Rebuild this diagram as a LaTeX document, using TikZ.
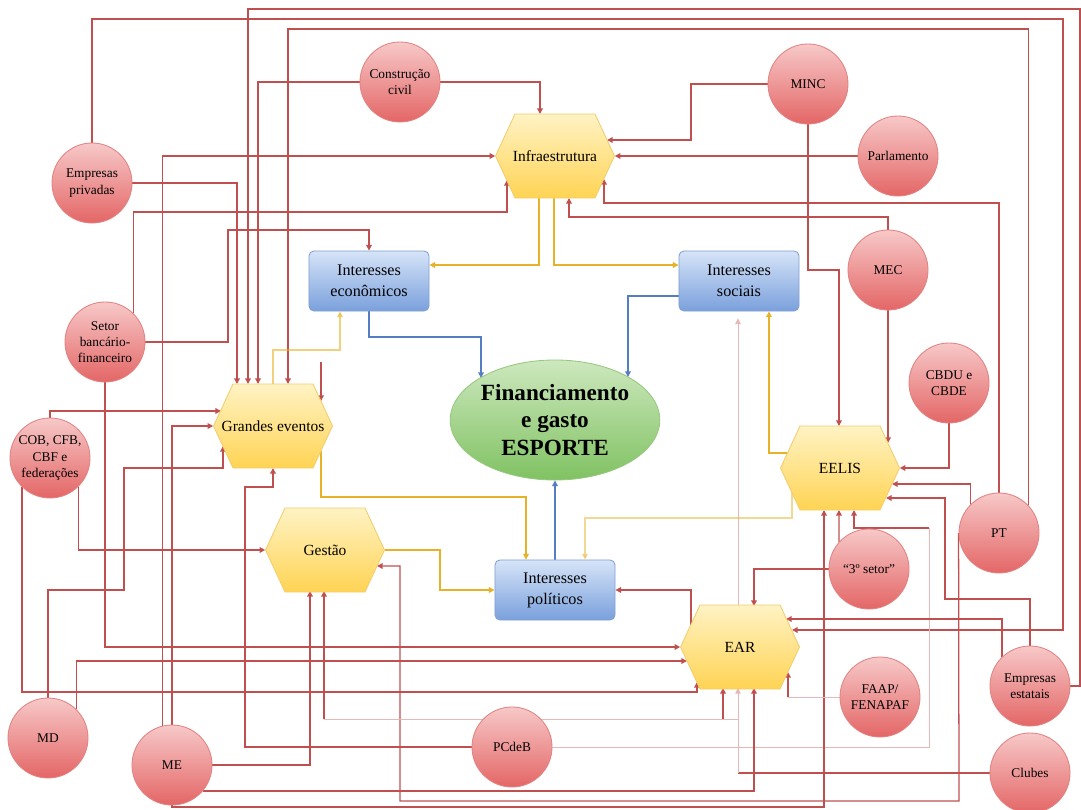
\documentclass[tikz,border=0pt]{standalone}
\usepackage{fontspec}
\setmainfont{Liberation Serif}
\usetikzlibrary{shapes.geometric,arrows.meta,calc}
\pgfdeclarelayer{bg}
\pgfdeclarelayer{hexl}
\pgfsetlayers{bg,hexl,main}
\definecolor{ctop}{RGB}{247,200,200}
\definecolor{cbot}{RGB}{228,102,102}
\definecolor{cbord}{RGB}{226,130,130}
\definecolor{htop}{RGB}{255,243,196}
\definecolor{hbot}{RGB}{255,212,84}
\definecolor{hbord}{RGB}{242,205,110}
\definecolor{btop}{RGB}{214,228,248}
\definecolor{bbot}{RGB}{122,160,220}
\definecolor{bbord}{RGB}{130,160,210}
\definecolor{gtop}{RGB}{205,232,190}
\definecolor{gbot}{RGB}{128,194,98}
\definecolor{gbord}{RGB}{150,200,125}
\definecolor{lred}{RGB}{192,80,80}
\definecolor{lyel}{RGB}{232,178,40}
\definecolor{lblue}{RGB}{85,125,195}
\newcommand{\drawhex}[1]{\shadedraw[top color=htop,bottom color=hbot,draw=hbord,line width=0.6pt]
  ($(#1)+(-59.5,0)$) -- ($(#1)+(-40,-42)$) -- ($(#1)+(40,-42)$) -- ($(#1)+(59.5,0)$) --
  ($(#1)+(40,42)$) -- ($(#1)+(-40,42)$) -- cycle;}
\begin{document}
\begin{tikzpicture}[x=0.025cm,y=-0.025cm,
  circ/.style={circle, draw=cbord, line width=0.6pt, top color=ctop, bottom color=cbot,
    minimum size=2cm, inner sep=0pt, align=center, font=\fontsize{9.5}{11.5}\selectfont},
  hexa/.style={rectangle, minimum width=2.975cm, minimum height=2.1cm, inner sep=0pt,
    align=center, font=\fontsize{11}{13}\selectfont},
  boxn/.style={rectangle, rounded corners=3.5pt, draw=bbord, line width=0.6pt, top color=btop,
    bottom color=bbot, minimum width=3cm, minimum height=1.5cm, align=center,
    font=\fontsize{11.5}{15}\selectfont},
  rl/.style={draw=lred, line width=0.9pt, -{Triangle[length=4pt,width=4pt]}},
  fl/.style={draw=lred!40, line width=0.6pt, -{Triangle[length=4pt,width=4pt]}},
  yl/.style={draw=lyel, line width=0.9pt, -{Triangle[length=4pt,width=4pt]}},
  bl/.style={draw=lblue, line width=0.9pt, -{Triangle[length=4pt,width=4pt]}}]
\useasboundingbox (0,0) rectangle (1081,810);

\node[circ] (cons) at (400,82) {Construção\\civil};
\node[circ] (minc) at (808,84) {MINC};
\node[circ] (parl) at (898,156) {Parlamento};
\node[circ] (emppriv) at (92,183) {Empresas\\privadas};
\node[hexa] (infra) at (555,156) {Infraestrutura};
\node[boxn] (econ) at (369,281) {Interesses\\econômicos};
\node[boxn] (soc) at (739,281) {Interesses\\sociais};
\node[circ] (mec) at (888,270) {MEC};
\node[circ] (setor) at (105,342) {Setor\\bancário-\\financeiro};
\node[hexa] (ge) at (273,426) {Grandes eventos};
\node[ellipse, draw=gbord, line width=0.6pt, top color=gtop, bottom color=gbot,
  minimum width=5.2cm, minimum height=3cm, inner sep=0pt, align=center,
  font=\fontsize{16.5}{19.6}\selectfont\bfseries] (fin) at (555,420) {Financiamento\\e gasto\\ESPORTE};
\node[circ] (cbdu) at (949,383) {CBDU e\\CBDE};
\node[circ] (cob) at (50,458) {COB, CFB,\\CBF e\\federações};
\node[hexa] (eelis) at (840,468) {EELIS};
\node[circ] (pt) at (999,533) {PT};
\node[hexa] (gest) at (325,550) {Gestão};
\node[boxn] (pol) at (555,590) {Interesses\\políticos};
\node[circ] (ters) at (869,569) {“3º setor”};
\node[hexa] (ear) at (740,647) {EAR};
\node[circ] (faap) at (880,697) {FAAP/\\FENAPAF};
\node[circ] (empest) at (1030,686) {Empresas\\estatais};
\node[circ] (md) at (48,738) {MD};
\node[circ] (me) at (172,765) {ME};
\node[circ] (pcdb) at (512,747) {PCdeB};
\node[circ] (clubes) at (1030,773) {Clubes};

\coordinate (dang) at (321,362);
\coordinate (p1) at (929,528);
\coordinate (c1) at (738,773);
\coordinate (c2) at (738,719);
\coordinate (c3) at (324,719);
\coordinate (c4) at (723,719);
\coordinate (f1) at (788,697);

\begin{pgfonlayer}{hexl}
\drawhex{infra}
\drawhex{ge}
\drawhex{eelis}
\drawhex{gest}
\drawhex{ear}
\end{pgfonlayer}

\begin{pgfonlayer}{bg}
% red connectors
\draw[rl] (emppriv.north) |- (1063,19) |- ($(ear)+(52,-17)$);
\draw[rl] (emppriv.east) -| ($(ge)+(-36,-42)$);
\draw[rl] (empest.east) -- (1080,686) |- (248,9) -- ($(ge)+(-25,-42)$);
\draw[rl] (cons.west) -| ($(ge)+(-15,-42)$);
\draw[rl] (pt.43) |- (288,29) -- ($(ge)+(15,-42)$);
\draw[rl] (dang) -- ($(ge)+(48,-25)$);
\draw[rl] (cons.east) -| ($(infra)+(-15,-42)$);
\draw[rl] (me.104) |- (infra.west);
\draw[rl] (me.north) |- (ge.west);
\draw[rl] (setor.45) |- (507,212) -- ($(infra)+(-48,24)$);
\draw[rl] (setor.east) -| (228,230) -| (econ.north);
\draw[rl] (minc.west) -| (691,140) -- ($(infra)+(52,-16)$);
\draw[rl] (parl.west) -- (infra.east);
\draw[rl] (pt.north) |- (604,203) -- ($(infra)+(49,23)$);
\draw[rl] (mec.north) |- (569,217) -- ($(infra)+(14,42)$);
\draw[rl] (minc.south) |- (839,270) -- ($(eelis)+(-1,-42)$);
\draw[rl] (mec.south) -- ($(eelis)+(48,-25)$);
\draw[rl] (cbdu.south) |- (eelis.east);
\draw[rl] (pt.135) |- ($(eelis)+(52,16)$);
\draw[rl] (empest.north) |- (945,599) |- ($(eelis)+(46,30)$);
\draw[rl] (ters.138) -- ($(eelis)+(-1,42)$);
\draw[fl,-] (pcdb.east) -| (p1);
\draw[rl] (p1) -| ($(eelis)+(14,42)$);
\draw[rl] (me.south) -- (172,807) -| ($(eelis)+(-16,42)$);
\draw[rl] (me.-40) -| ($(ear)+(14,41)$);
\draw[rl] (pt.west) -- (959,801) -| (400,566) -- ($(gest)+(52,16)$);
\draw[rl] (me.east) -| ($(gest)+(-15,41)$);
\draw[rl,-] (clubes.west) -- (c1);
\draw[fl] (c1) -- ($(soc.south)+(-1,7)$);
\draw[fl,-] (c2) -- (c3);
\draw[rl] (c3) -- ($(gest)+(-1,41)$);
\draw[rl] (c4) -- ($(ear)+(-17,41)$);
\draw[fl] (c1) -- ($(ear)+(-2,41)$);
\draw[fl,-] (faap.west) -- (f1);
\draw[rl] (f1) -- ($(ear)+(48,25)$);
\draw[rl] (ters.west) -| ($(ear)+(14,-41)$);
\draw[rl] (empest.134) |- ($(ear)+(46,-28)$);
\draw[rl] (setor.south) |- (ear.west);
\draw[rl] (md.45) |- ($(ear)+(-53,14)$);
\draw[rl] (cob.226) |- (697,692) -- ($(ear)+(-43,35)$);
\draw[rl] (md.north) |- (124,590) |- (223,468) -- ($(ge)+(-50,20)$);
\draw[rl] (cob.north) |- ($(ge)+(-52,-15)$);
\draw[rl] (cob.-45) |- (gest.west);
\draw[rl] (pcdb.west) -| (245,487) -| ($(ge)+(0,42)$);
\draw[rl] ($(ear)+(-49,-22)$) |- (pol.east);
% yellow connectors
\draw[yl] ($(infra)+(-16,42)$) |- ($(econ.east)+(0,-16)$);
\draw[yl] ($(infra)+(-1,42)$) |- ($(soc.west)+(0,-16)$);
\draw[yl,opacity=.6] (ge.north) |- (340,350) -- ($(econ.south)+(-29,0)$);
\draw[yl] ($(ge)+(48,25)$) |- (526,497) -- ($(pol.north)+(-29,0)$);
\draw[yl] (gest.east) -- (440,550) |- (pol.west);
\draw[yl] ($(eelis)+(-52,-15)$) -| ($(soc.south)+(30,0)$);
\draw[yl,opacity=.5] ($(eelis)+(-48,24)$) |- (585,518) -- ($(pol.north)+(30,0)$);
% blue connectors
\draw[bl] (econ.south) |- (481,337) -- ($(fin)+(-74,-42)$);
\draw[bl] ($(soc.west)+(0,15)$) -| ($(fin)+(73,-43)$);
\draw[bl] (pol.north) -- (fin.south);
\end{pgfonlayer}
\end{tikzpicture}
\end{document}
